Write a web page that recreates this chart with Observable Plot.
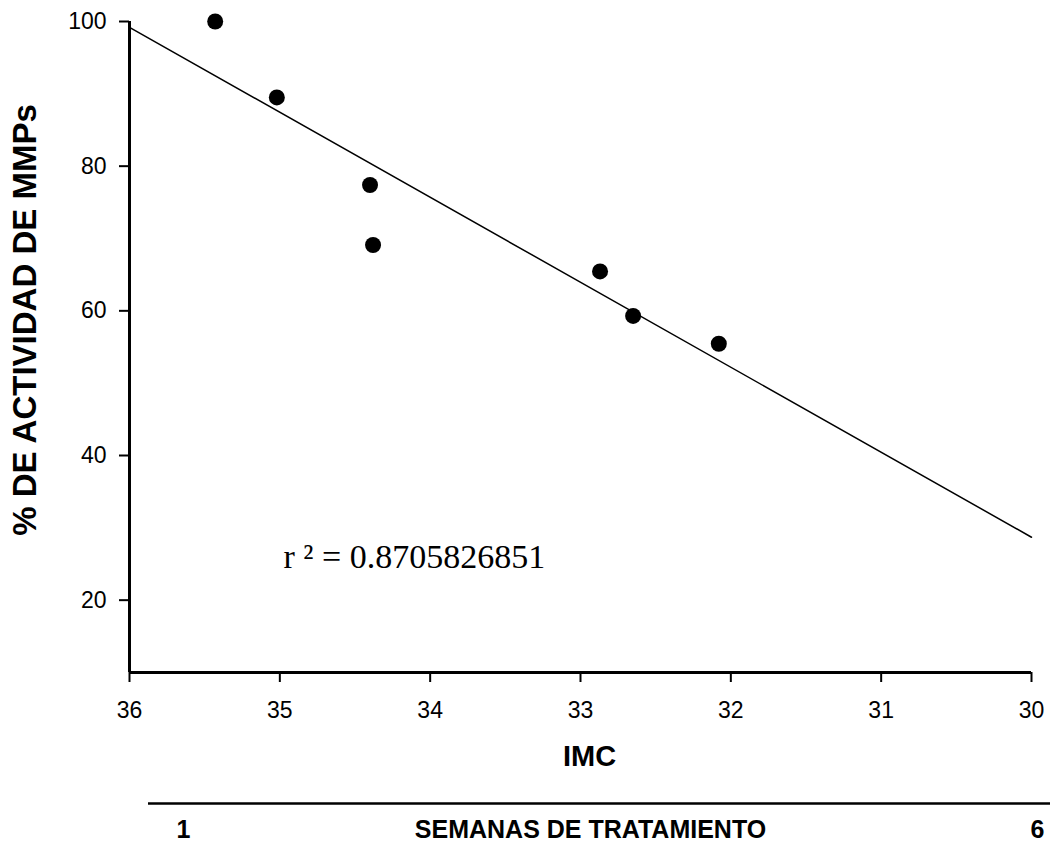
<!DOCTYPE html>
<html>
<head>
<meta charset="utf-8">
<script src="https://cdn.jsdelivr.net/npm/d3@7"></script>
<script src="https://cdn.jsdelivr.net/npm/@observablehq/plot@0.6"></script>
<style>
  body { margin: 0; background: #fff; }
  svg { display: block; }
</style>
</head>
<body>
<div id="chart"></div>
<script>
// ---- data ----
const imc = [35.43, 35.02, 34.40, 34.38, 32.87, 32.65, 32.08];
const actividad = [100, 89.5, 77.4, 69.1, 65.45, 59.3, 55.45];
const fitImc = [36, 30];
const fitAct = [99.2, 28.7];
const xTicks = [36, 35, 34, 33, 32, 31, 30];
const yTicks = [20, 40, 60, 80, 100];
const weeks = [1, 6];
const r2Label = "r \u00B2 = 0.8705826851";
const xLabel = "IMC";
const yLabel = "% DE ACTIVIDAD DE MMPs";
const weeksLabel = "SEMANAS DE TRATAMIENTO";

const points = imc.map((x, i) => ({imc: x, act: actividad[i]}));
const fit = fitImc.map((x, i) => ({imc: x, act: fitAct[i]}));

const sans = "'Liberation Sans', Arial, Helvetica, sans-serif";
const serif = "'Liberation Serif', 'Times New Roman', serif";
const fmt = d => String(d);

const main = Plot.plot({
  width: 1054,
  height: 790,
  marginLeft: 129,
  marginRight: 23,
  marginTop: 21,
  marginBottom: 118,
  style: {fontFamily: sans, background: "white", color: "black", overflow: "visible"},
  x: {domain: [36, 30], label: null},
  y: {domain: [10, 100], label: null},
  marks: [
    Plot.axisY(yTicks, {tickSize: 10, tickPadding: 13, fontSize: 23, strokeWidth: 2, tickFormat: fmt, label: null}),
    Plot.axisX(xTicks, {tickSize: 10, tickPadding: 19, fontSize: 23, strokeWidth: 2, tickFormat: fmt, label: null}),
    Plot.ruleX([36], {strokeWidth: 3}),
    Plot.ruleY([10], {strokeWidth: 3}),
    Plot.line(fit, {x: "imc", y: "act", stroke: "black", strokeWidth: 1.5}),
    Plot.dot(points, {x: "imc", y: "act", r: 8, fill: "black", stroke: "none"}),
    Plot.text([r2Label], {text: d => d, frameAnchor: "bottom-left", dx: 154, dy: -115,
      textAnchor: "start", lineAnchor: "middle", fontSize: 34, fontFamily: serif, fill: "black"}),
    Plot.text([xLabel], {text: d => d, frameAnchor: "bottom", dx: 9, dy: 84,
      lineAnchor: "middle", fontSize: 29, fontWeight: "bold", fill: "black"}),
    Plot.text([yLabel], {text: d => d, frameAnchor: "left", rotate: -90, dx: -104, dy: -27,
      textAnchor: "middle", lineAnchor: "middle", fontSize: 33, fontWeight: "bold", fill: "black"})
  ]
});

const weeksPlot = Plot.plot({
  width: 1054,
  height: 58,
  marginLeft: 183,
  marginRight: 17,
  marginTop: 13,
  marginBottom: 45,
  style: {fontFamily: sans, background: "white", color: "black", overflow: "visible"},
  x: {domain: [1, 6], label: null},
  y: {domain: [0, 1], axis: null},
  marks: [
    Plot.ruleY([0], {strokeWidth: 2.5, insetLeft: -35, insetRight: -13}),
    Plot.axisX(weeks, {anchor: "bottom", tickSize: 0, tickPadding: 17, fontSize: 25, fontWeight: "bold", tickFormat: fmt, label: null}),
    Plot.text([weeksLabel], {text: d => d, frameAnchor: "bottom", dx: -20, dy: 26,
      lineAnchor: "middle", fontSize: 25, fontWeight: "bold", fill: "black"})
  ]
});

const root = document.getElementById("chart");
root.appendChild(main);
root.appendChild(weeksPlot);
</script>
</body>
</html>
